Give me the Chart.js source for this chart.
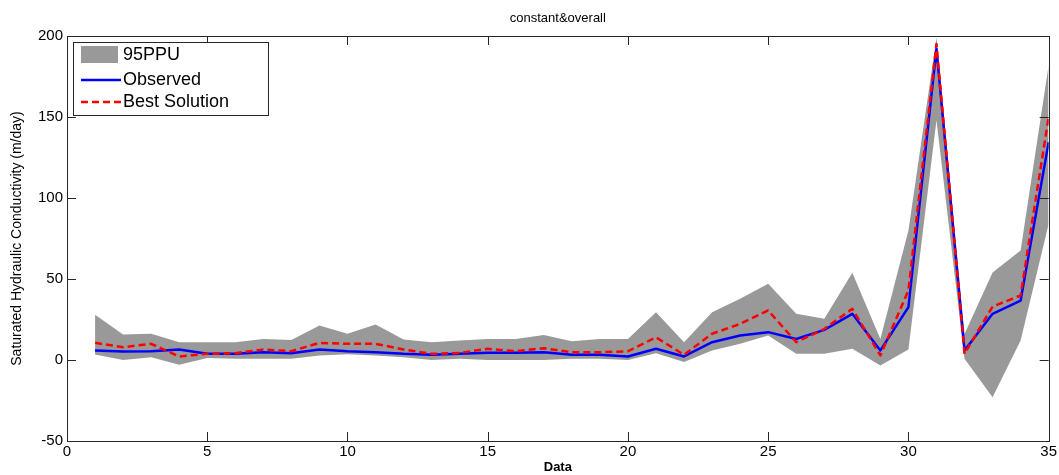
<!DOCTYPE html>
<html lang="en">
<head>
<meta charset="UTF-8">
<title>constant&amp;overall</title>
<style>
    body { margin: 0; background: #fff; }
    .box { width: 1059px; height: 475px; position: relative; }
</style>
</head>
<body>
<div class="box">
    <canvas id="grafico"></canvas>
</div>

<script src="https://cdn.jsdelivr.net/npm/chart.js@4.4.0/dist/chart.umd.min.js"></script>
<script>
    // data
    var pontos = [1, 2, 3, 4, 5, 6, 7, 8, 9, 10, 11, 12, 13, 14, 15, 16, 17, 18, 19, 20,
                  21, 22, 23, 24, 25, 26, 27, 28, 29, 30, 31, 32, 33, 34, 35];
    var observed = [5.9, 5.2, 5.4, 6.5, 3.8, 3.8, 4.8, 4.2, 6.5, 5.4, 4.8, 3.8, 3.2, 3.8, 4.4, 4.4, 4.8, 3.2, 3.2, 2.2,
                    6.9, 2.2, 11, 15.1, 17.2, 13, 18.6, 28.5, 5.9, 32.6, 192, 5.9, 28.5, 36.7, 134.5];
    var bestSolution = [10.6, 7.9, 10, 2.2, 3.8, 4.2, 6.5, 5.4, 10.6, 10, 10, 6.5, 3.8, 4.4, 6.9, 5.4, 7.3, 4.8, 4.8, 5.4,
                        14, 3.2, 16.2, 22.3, 30.6, 11, 19.2, 31.6, 2.8, 43, 195, 3.8, 33, 39.8, 150];
    var ppuUpper = [28, 15.7, 16.2, 11, 11, 11, 13, 12.4, 21.3, 16.2, 21.9, 12.7, 11, 12, 13, 13, 15.5, 11.6, 13, 13,
                    29.5, 11, 29.5, 37.8, 47, 28.5, 25.4, 53.8, 13, 80, 199, 16, 54, 67.6, 182];
    var ppuLower = [3.4, 0, 1.7, -3, 1.3, 0.7, 0.7, 0.7, 2.8, 3.5, 2.8, 1.7, 0, 0.7, 0, 0, 0, 0.7, 0.7, 0,
                    4.2, -1.3, 5.9, 10, 15.1, 3.8, 3.8, 6.9, -3.4, 6.5, 148, 0.7, -23, 12, 84];
    var xTicks = [0, 5, 10, 15, 20, 25, 30, 35];
    var yTicks = [-50, 0, 50, 100, 150, 200];

    var cinza = '#999999';
    var azul = '#0000ff';
    var vermelho = '#ff0000';
    var eixo = '#262626';
    var fonte = '"Liberation Sans", Arial, sans-serif';
    var fonteEstreita = '"Liberation Sans Narrow", "Arial Narrow", "Liberation Sans", sans-serif';

    function serie(valores) {
        return valores.map(function (v, i) { return { x: pontos[i], y: v }; });
    }

    // box, inward ticks, title and legend, drawn like the matlab figure
    var moldura = {
        id: 'moldura',
        afterDraw: function (chart) {
            var ctx = chart.ctx;
            var a = chart.chartArea;
            var sx = chart.scales.x, sy = chart.scales.y;
            var tam = 9;
            ctx.save();
            ctx.strokeStyle = eixo;
            ctx.lineWidth = 1;
            ctx.strokeRect(Math.round(a.left) + 0.5, Math.round(a.top) + 0.5,
                Math.round(a.right - a.left), Math.round(a.bottom - a.top));
            ctx.beginPath();
            xTicks.forEach(function (t) {
                var px = Math.round(sx.getPixelForValue(t)) + 0.5;
                ctx.moveTo(px, a.bottom); ctx.lineTo(px, a.bottom - tam);
                ctx.moveTo(px, a.top); ctx.lineTo(px, a.top + tam);
            });
            yTicks.forEach(function (t) {
                var py = Math.round(sy.getPixelForValue(t)) + 0.5;
                ctx.moveTo(a.left, py); ctx.lineTo(a.left + tam, py);
                ctx.moveTo(a.right, py); ctx.lineTo(a.right - tam, py);
            });
            ctx.stroke();

            // title
            ctx.fillStyle = '#000';
            ctx.font = '13px ' + fonteEstreita;
            ctx.textAlign = 'center';
            ctx.textBaseline = 'middle';
            ctx.fillText('constant&overall', (a.left + a.right) / 2, 18);

            // legend
            var lx = a.left + 6, ly = a.top + 6;
            ctx.fillStyle = '#fff';
            ctx.fillRect(lx, ly, 195, 73);
            ctx.strokeRect(lx + 0.5, ly + 0.5, 195, 73);
            ctx.fillStyle = cinza;
            ctx.fillRect(lx + 8, ly + 4, 37, 17);
            ctx.lineWidth = 2.5;
            ctx.strokeStyle = azul;
            ctx.beginPath();
            ctx.moveTo(lx + 8, ly + 38); ctx.lineTo(lx + 48, ly + 38);
            ctx.stroke();
            ctx.strokeStyle = vermelho;
            ctx.setLineDash([7, 4]);
            ctx.beginPath();
            ctx.moveTo(lx + 8, ly + 60); ctx.lineTo(lx + 48, ly + 60);
            ctx.stroke();
            ctx.setLineDash([]);
            ctx.fillStyle = '#000';
            ctx.font = '18px ' + fonte;
            ctx.textAlign = 'left';
            ctx.fillText('95PPU', lx + 50, ly + 13);
            ctx.fillText('Observed', lx + 50, ly + 38);
            ctx.fillText('Best Solution', lx + 50, ly + 60);
            ctx.restore();
        }
    };

    var grafico = new Chart(document.getElementById('grafico'), {
        type: 'line',
        data: {
            datasets: [{
                label: '95PPU',
                data: serie(ppuUpper),
                borderWidth: 0,
                pointRadius: 0,
                backgroundColor: cinza,
                fill: '+1',
                order: 3
            }, {
                label: '95PPU lower',
                data: serie(ppuLower),
                borderWidth: 0,
                pointRadius: 0,
                backgroundColor: cinza,
                fill: false,
                order: 3
            }, {
                label: 'Observed',
                data: serie(observed),
                borderColor: azul,
                borderWidth: 2.5,
                borderJoinStyle: 'round',
                pointRadius: 0,
                fill: false,
                order: 2
            }, {
                label: 'Best Solution',
                data: serie(bestSolution),
                borderColor: vermelho,
                borderWidth: 2.5,
                borderJoinStyle: 'round',
                borderDash: [7, 4],
                pointRadius: 0,
                fill: false,
                order: 1
            }]
        },
        options: {
            responsive: true,
            maintainAspectRatio: false,
            animation: false,
            layout: { padding: { top: 36, right: 7 } },
            plugins: {
                legend: { display: false },
                tooltip: { enabled: false },
                title: { display: false }
            },
            scales: {
                x: {
                    type: 'linear',
                    min: 0,
                    max: 35,
                    afterFit: function (s) { s.height = 34; },
                    grid: { display: false, drawTicks: false },
                    border: { display: false },
                    ticks: {
                        stepSize: 5,
                        padding: 2,
                        color: '#000',
                        maxRotation: 0,
                        font: { family: fonte, size: 15 }
                    },
                    title: {
                        display: true,
                        text: 'Data',
                        color: '#000',
                        padding: { top: 0, bottom: 0 },
                        font: { family: fonte, size: 13, weight: 'bold' }
                    }
                },
                y: {
                    min: -50,
                    max: 200,
                    afterFit: function (s) { s.width = 67; },
                    grid: { display: false, drawTicks: false },
                    border: { display: false },
                    ticks: {
                        stepSize: 50,
                        padding: 4,
                        color: '#000',
                        font: { family: fonte, size: 15 }
                    },
                    title: {
                        display: true,
                        text: 'Saturated Hydraulic Conductivity (m/day)',
                        color: '#000',
                        padding: { top: 9, bottom: 0 },
                        font: { family: fonte, size: 14 }
                    }
                }
            }
        },
        plugins: [moldura]
    });
</script>
</body>
</html>
